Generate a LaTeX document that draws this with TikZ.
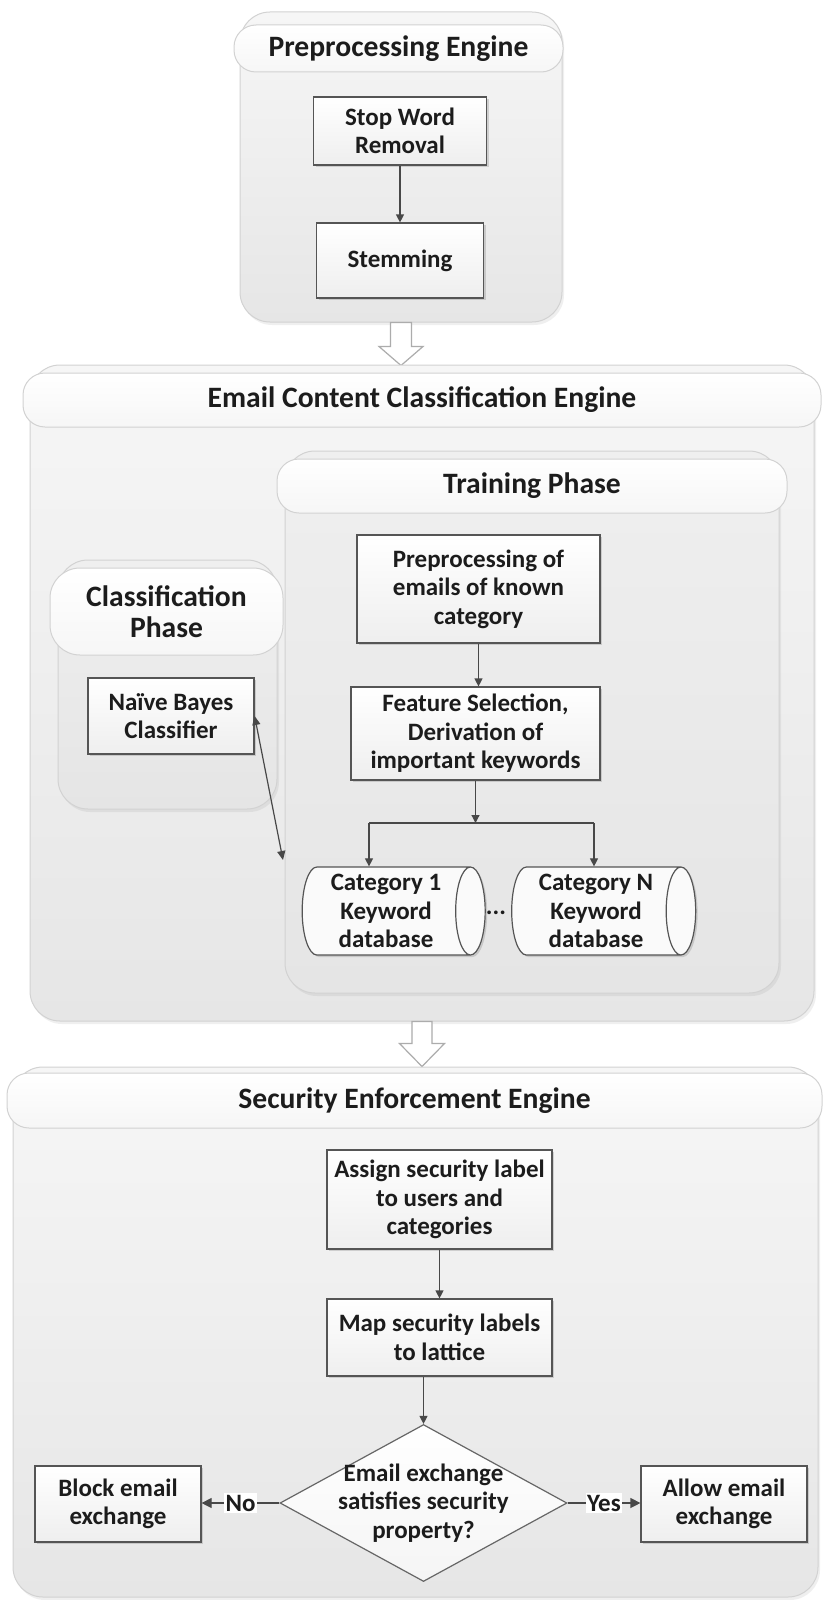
\documentclass[tikz,border=0pt]{standalone}
\usepackage{fontspec}
\setmainfont{Carlito}
\usetikzlibrary{shapes.geometric,arrows.meta,calc,shadows}
\definecolor{txt}{HTML}{1C1C1C}
\definecolor{edge}{HTML}{555555}
\definecolor{cline}{HTML}{D2D2D2}
\definecolor{ctop}{HTML}{F6F6F6}
\definecolor{cbot}{HTML}{E6E6E6}
\definecolor{c2top}{HTML}{EFEFEF}
\definecolor{c2bot}{HTML}{E5E5E5}
\newcommand\HdrFont{\fontsize{14.8}{15.5}\selectfont\bfseries}
\newcommand\BodyFont{\fontsize{12.5}{14.3}\selectfont\bfseries}
\tikzset{
  cont/.style={draw=cline, line width=0.5pt, rounded corners=15pt, top color=ctop, bottom color=cbot,
    drop shadow={shadow xshift=1pt, shadow yshift=-1.5pt, opacity=0.12}, inner sep=0pt},
  cont2/.style={cont, top color=c2top, bottom color=c2bot},
  hdr/.style={draw=cline, line width=0.5pt, rounded corners=11pt, top color=white, bottom color=ctop,
    font=\HdrFont, text=txt, inner sep=0pt, align=center},
  box/.style={draw=edge, line width=0.6pt, top color=white, bottom color=gray!13,
    drop shadow={shadow xshift=1pt, shadow yshift=-1pt, opacity=0.3},
    font=\BodyFont, align=center, text=txt, inner sep=1pt},
  dbcyl/.style={shape=cylinder, aspect=0.4, draw=edge, line width=0.6pt, fill=gray!4,
    drop shadow={shadow xshift=1pt, shadow yshift=-1pt, opacity=0.3},
    font=\BodyFont, align=center, text=txt, inner sep=0pt},
  decision/.style={shape=diamond, draw=edge!90, line width=0.6pt, top color=white, bottom color=gray!8, inner sep=0pt},
  arr/.style={draw=edge!85!black, line width=0.6pt, -{Triangle[width=4pt,length=4pt]}},
  darr/.style={draw=edge!85!black, line width=0.6pt, {Triangle[width=4pt,length=4.5pt]}-{Triangle[width=4pt,length=4.5pt]}},
  hollow/.style={draw=gray!65, fill=white, line width=0.6pt, line join=miter},
  lbl/.style={fill=white, font=\BodyFont, text=txt, inner sep=0.8pt}
}
\begin{document}
\begin{tikzpicture}[x=0.5pt,y=-0.5pt]
\useasboundingbox (0,0) rectangle (824,1600);
\fill[white] (0,0) rectangle (824,1600);

% ---------- Preprocessing Engine ----------
\node[cont, minimum width=161pt, minimum height=155pt] (ppc) at (401,167) {};
\node[hdr, minimum width=164.5pt, minimum height=23.5pt] (pph) at (398.5,48.5) {Preprocessing Engine};
\node[box, minimum width=86.5pt, minimum height=34pt] (sw) at (400,131) {Stop Word\\Removal};
\node[box, minimum width=83.5pt, minimum height=37.5pt] (stem) at (400,260.5) {Stemming};
\draw[arr] (sw.south) -- (stem.north);

% hollow arrow 1
\draw[hollow, shift={(ppc.south)}] (-10.5,0) -- (-10.5,24) -- (-22,24) -- (0,43) -- (22,24) -- (10.5,24) -- (10.5,0) -- cycle;

% ---------- Email Content Classification Engine ----------
\node[cont, minimum width=392pt, minimum height=328pt] (ecc) at (422,693) {};
\node[hdr, minimum width=399pt, minimum height=27pt] (ech) at (422,400) {Email Content Classification Engine};

\node[cont2, minimum width=247pt, minimum height=271pt] (trc) at (532,722) {};
\node[hdr, minimum width=255pt, minimum height=27pt] (trh) at (532,486) {Training Phase};

\node[cont2, minimum width=109.5pt, minimum height=124.5pt] (clc) at (167.5,684.5) {};
\node[hdr, rounded corners=15pt, minimum width=116.5pt, minimum height=43.5pt] (clh) at (166.5,611.5) {Classification\\Phase};

\node[box, minimum width=83pt, minimum height=38pt] (nb) at (171,716) {Na\"ive Bayes\\Classifier};

\node[box, minimum width=121.5pt, minimum height=54pt] (pre) at (478.5,589) {Preprocessing of\\emails of known\\category};
\node[box, minimum width=124.5pt, minimum height=46.5pt] (feat) at (475.5,733.5) {Feature Selection,\\Derivation of\\important keywords};
\draw[arr] (pre.south) -- (pre.south |- feat.north);

\node[dbcyl, minimum height=91.5pt, minimum width=44pt] (cat1) at (386,911) {Category 1\\Keyword\\database};
\node[dbcyl, minimum height=92pt, minimum width=44pt] (catN) at (596,911) {Category N\\Keyword\\database};
\node[font=\BodyFont, text=txt, anchor=base, inner sep=0pt] (dots) at (496,914) {...};

\coordinate (br) at (475.5,823);
\coordinate (b1) at (369,823);
\coordinate (b2) at (594,823);
\draw[arr] (feat.south) -- (br);
\draw[draw=edge!85!black, line width=0.6pt] (b1) -- (b2);
\draw[arr] (b1) -- (b1 |- cat1.north);
\draw[arr] (b2) -- (b2 |- catN.north);

\coordinate (dbend) at (283,860);
\draw[darr] (nb.east) -- (dbend);

% hollow arrow 2
\draw[hollow, shift={(ecc.south)}] (-10,0) -- (-10,22) -- (-22.5,22) -- (0,45) -- (22.5,22) -- (10,22) -- (10,0) -- cycle;

% ---------- Security Enforcement Engine ----------
\node[cont, minimum width=402.5pt, minimum height=265pt] (sec) at (415.5,1332) {};
\node[hdr, minimum width=407.5pt, minimum height=27.5pt] (sech) at (414.5,1100.5) {Security Enforcement Engine};

\node[box, minimum width=112.5pt, minimum height=49.5pt] (assign) at (439.5,1199.5) {Assign security label\\to users and\\categories};
\node[box, minimum width=112.5pt, minimum height=38.5pt] (map) at (439.5,1337.5) {Map security labels\\to lattice};
\draw[arr] (assign.south) -- (map.north);

\node[decision, minimum width=143.5pt, minimum height=78.5pt,
  label={[font=\BodyFont, text=txt, align=center]center:{Email exchange\\satisfies security\\property?}}] (dia) at (423.5,1503) {};
\draw[arr] (dia.north |- map.south) -- (dia.north);

\node[box, minimum width=83pt, minimum height=38pt] (block) at (118,1504) {Block email\\exchange};
\node[box, minimum width=83pt, minimum height=38pt] (allow) at (724,1504) {Allow email\\exchange};

\draw[arr, -{Triangle[width=5pt,length=5pt]}] (dia.west) -- node[lbl] {No} (block.east |- dia.west);
\draw[arr, -{Triangle[width=5pt,length=5pt]}] (dia.east) -- node[lbl] {Yes} (allow.west |- dia.east);
\end{tikzpicture}
\end{document}
